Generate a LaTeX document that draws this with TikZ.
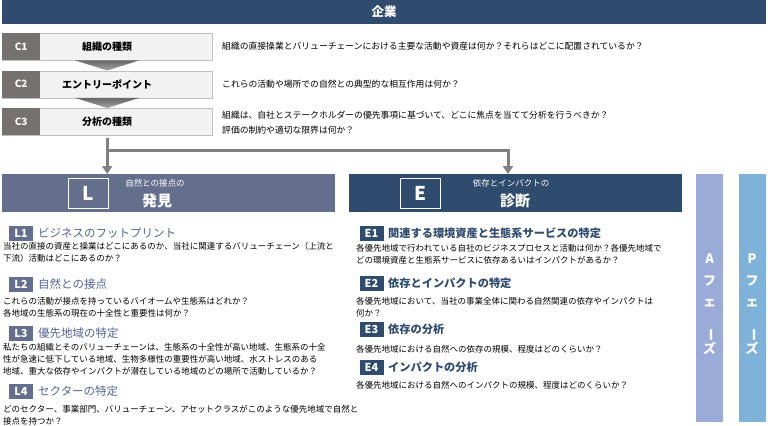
\documentclass[tikz,border=0pt]{standalone}
\usepackage{fontspec}
\setmainfont{Noto Sans CJK JP}
\usepackage{graphicx}
\usetikzlibrary{arrows.meta,calc}
\definecolor{navy}{RGB}{47,75,110}
\definecolor{slate}{RGB}{99,111,140}
\definecolor{slatetxt}{RGB}{84,101,145}
\definecolor{cgray}{RGB}{118,113,113}
\definecolor{lightbg}{RGB}{242,242,242}
\definecolor{lightbd}{RGB}{191,191,191}
\definecolor{conn}{RGB}{128,128,128}
\definecolor{abar}{RGB}{155,171,216}
\definecolor{pbar}{RGB}{126,178,216}
\newcommand{\fs}[2]{\fontsize{#1}{#2}\selectfont}
\tikzset{
  cbox/.style={draw=lightbd, fill=lightbg, minimum width=210pt, minimum height=27pt, anchor=north west, inner sep=0pt, font=\bfseries\fs{10}{12}},
  clab/.style={fill=cgray, text=white, minimum width=38pt, minimum height=27pt, anchor=north west, inner sep=0pt, font=\bfseries\fs{10}{12}},
  chev/.style={top color=conn!80!black, bottom color=conn!70},
  ctext/.style={anchor=west, inner sep=0pt, font=\fs{8.8}{14.5}, align=left},
  conline/.style={draw=conn, line width=3pt, -{Triangle[width=10pt,length=8pt]}},
  phead/.style={minimum height=38pt, anchor=north west, inner sep=0pt},
  letterbox/.style={draw=white, line width=1.2pt, minimum width=40pt, minimum height=30pt, anchor=north west, inner sep=0pt, text=white, font=\bfseries\fs{19}{20}},
  subhd/.style={text=white, inner sep=0pt, font=\fs{8.5}{10}},
  mainhd/.style={text=white, inner sep=0pt, font=\bfseries\fs{15}{17}},
  tagL/.style={fill=slate, text=white, minimum width=24pt, minimum height=15pt, inner sep=0pt, font=\bfseries\fs{11}{12}},
  tagE/.style={fill=navy, text=white, minimum width=24pt, minimum height=15pt, inner sep=0pt, font=\bfseries\fs{11}{12}},
  ttlL/.style={anchor=west, inner sep=0pt, text=slatetxt, font=\fs{11.5}{13}},
  ttlE/.style={anchor=west, inner sep=0pt, text=navy, font=\bfseries\fs{11.2}{13}},
  desc/.style={anchor=north west, inner sep=0pt, align=left, font=\fs{8.5}{12}},
  phasebar/.style={minimum width=27pt, minimum height=248pt, anchor=north west, inner sep=0pt},
  phasetxt/.style={text=white, inner sep=0pt, align=center, font=\bfseries\fs{13}{21.5}}
}
\begin{document}
\begin{tikzpicture}[x=1pt,y=-1pt]
\useasboundingbox (0,0) rectangle (780,426);
% header
\node[fill=navy, minimum width=764pt, minimum height=24pt, anchor=north west, inner sep=0pt,
      text=white, font=\bfseries\fs{12.5}{14}] (hdr) at (2,0) {企業};
% C rows
\node[cbox] (c1) at (2,33) {};
\node[clab] (c1l) at (2,33) {C1};
\node[font=\bfseries\fs{10}{12}, inner sep=0pt] (c1t) at (c1.center) {組織の種類};
\node[cbox] (c2) at (2,70.5) {};
\node[clab] (c2l) at (2,70.5) {C2};
\node[font=\bfseries\fs{10}{12}, inner sep=0pt] (c2t) at (c2.center) {エントリーポイント};
\node[cbox] (c3) at (2,108) {};
\node[clab] (c3l) at (2,108) {C3};
\node[font=\bfseries\fs{10}{12}, inner sep=0pt] (c3t) at (c3.center) {分析の種類};
% chevrons
\shade[chev] ([xshift=-32pt]c1.south) -- ([xshift=32pt]c1.south) -- (c2.north) -- cycle;
\shade[chev] ([xshift=-32pt]c2.south) -- ([xshift=32pt]c2.south) -- (c3.north) -- cycle;
% C questions
\node[ctext] (q1) at (222,46.5) {組織の直接操業とバリューチェーンにおける主要な活動や資産は何か？それらはどこに配置されているか？};
\node[ctext] (q2) at (222,84) {これらの活動や場所での自然との典型的な相互作用は何か？};
\node[ctext] (q3) at (222,122.5) {組織は、自社とステークホルダーの優先事項に基づいて、どこに焦点を当てて分析を行うべきか？\\評価の制約や適切な限界は何か？};
% L and E headers
\node[phead, fill=slate, minimum width=333pt] (lbox) at (2,174) {};
\node[phead, fill=navy, minimum width=333pt] (ebox) at (349,174) {};
\node[letterbox] (lsq) at (68,178) {L};
\node[letterbox] (esq) at (400,178) {E};
\node[subhd] (lsub) at (155,183.5) {自然との接点の};
\node[mainhd] (lmain) at (157,200.5) {発見};
\node[subhd] (esub) at (511,183.5) {依存とインパクトの};
\node[mainhd] (emain) at (515,200.5) {診断};
% connectors
\coordinate (split) at ($(c3.south)+(0,15.5)$);
\coordinate (ltop) at (c3.south |- lbox.north);
\coordinate (etop) at (508,174);
\draw[conline] ([yshift=-3pt]c3.south) -- (ltop);
\draw[conline] (split) -- (split -| etop) -- (etop);
% L items
\node[tagL] (l1) at (21,233) {L1};
\node[ttlL] (l1t) at (38,233) {ビジネスのフットプリント};
\node[desc] (l1d) at (3,242.5) {当社の直接の資産と操業はどこにあるのか、当社に関連するバリューチェーン（上流と\\下流）活動はどこにあるのか？};
\node[tagL] (l2) at (21,284.5) {L2};
\node[ttlL] (l2t) at (38,284.5) {自然との接点};
\node[desc] (l2d) at (3,297.5) {これらの活動が接点を持っているバイオームや生態系はどれか？\\各地域の生態系の現在の十全性と重要性は何か？};
\node[tagL] (l3) at (21,333.5) {L3};
\node[ttlL] (l3t) at (38,333.5) {優先地域の特定};
\node[desc] (l3d) at (3,343.5) {私たちの組織とそのバリューチェーンは、生態系の十全性が高い地域、生態系の十全\\性が急速に低下している地域、生物多様性の重要性が高い地域、水ストレスのある\\地域、重大な依存やインパクトが潜在している地域のどの場所で活動しているか？};
\node[tagL] (l4) at (21,391.5) {L4};
\node[ttlL] (l4t) at (38,391.5) {セクターの特定};
\node[desc] (l4d) at (3,405.5) {どのセクター、事業部門、バリューチェーン、アセットクラスがこのような優先地域で自然と\\接点を持つか？};
% E items
\node[tagE] (e1) at (371.5,233.5) {E1};
\node[ttlE] (e1t) at (388,233.5) {関連する環境資産と生態系サービスの特定};
\node[desc] (e1d) at (356,244.5) {各優先地域で行われている自社のビジネスプロセスと活動は何か？各優先地域で\\どの環境資産と生態系サービスに依存あるいはインパクトがあるか？};
\node[tagE] (e2) at (371.5,283) {E2};
\node[ttlE] (e2t) at (388,283) {依存とインパクトの特定};
\node[desc] (e2d) at (356,297.5) {各優先地域において、当社の事業全体に関わる自然関連の依存やインパクトは\\何か？};
\node[tagE] (e3) at (371.5,329.5) {E3};
\node[ttlE] (e3t) at (388,329.5) {依存の分析};
\node[desc] (e3d) at (356,345.5) {各優先地域における自然への依存の規模、程度はどのくらいか？};
\node[tagE] (e4) at (371.5,367.5) {E4};
\node[ttlE] (e4t) at (388,367.5) {インパクトの分析};
\node[desc] (e4d) at (356,381.5) {各優先地域における自然へのインパクトの規模、程度はどのくらいか？};
% phase bars
\node[phasebar, fill=abar] (ab) at (696,174) {};
\node[phasebar, fill=pbar] (pb) at (738.5,174) {};
\node[phasetxt] (at) at ([yshift=-6pt]ab.center) {A\\フ\\ェ\\\rotatebox{-90}{ー}\\ズ};
\node[phasetxt] (pt) at ([yshift=-6pt]pb.center) {P\\フ\\ェ\\\rotatebox{-90}{ー}\\ズ};
\end{tikzpicture}
\end{document}
